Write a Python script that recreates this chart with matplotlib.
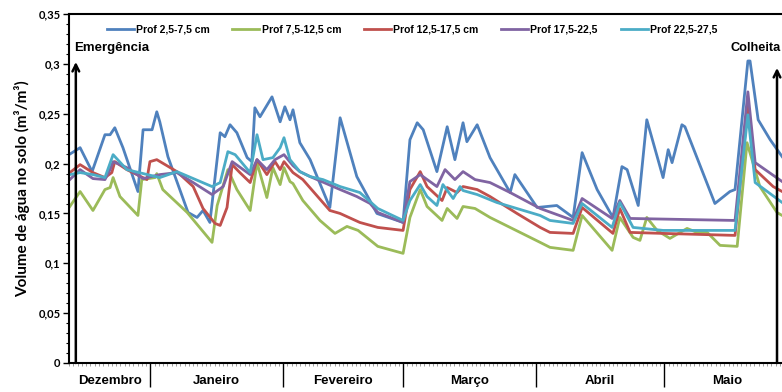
import matplotlib.pyplot as plt
from matplotlib.ticker import MultipleLocator, FixedLocator, FuncFormatter
from matplotlib.transforms import blended_transform_factory

# days counted from the first reading (mid December)
blue_x = [0, 2.6, 5.4, 8.4, 9.6, 10.7, 12.6, 16.1, 17.3, 19.4, 20.5, 21.2, 23.1, 27.8, 29.9, 31.3,
          32.9, 35.3, 36.4, 37.6, 39.2, 41.6, 42.7, 43.4, 44.6, 47.4, 49.3, 50.4, 51.6, 52.3, 53.9,
          56.3, 60.9, 63.3, 67.2, 71.9, 78.0, 79.6, 81.3, 82.7, 85.9, 88.3, 90.1, 92.0, 92.9, 95.3,
          98.3, 103.0, 104.1, 109.3, 113.9, 117.7, 119.8, 123.3, 127.0, 129.1, 130.3, 132.9, 134.9,
          138.7, 139.9, 140.8, 143.1, 143.8, 150.8, 154.3, 155.5, 158.5, 159.0, 160.9, 163.7, 166.5]
blue_y = [0.209, 0.216, 0.192, 0.229, 0.229, 0.236, 0.216, 0.172, 0.234, 0.234, 0.252, 0.242, 0.207,
          0.151, 0.146, 0.153, 0.141, 0.231, 0.227, 0.239, 0.231, 0.206, 0.202, 0.256, 0.247, 0.267,
          0.242, 0.257, 0.244, 0.254, 0.221, 0.204, 0.156, 0.246, 0.187, 0.150, 0.141, 0.224, 0.241,
          0.234, 0.192, 0.237, 0.204, 0.241, 0.222, 0.239, 0.206, 0.171, 0.189, 0.156, 0.158, 0.146,
          0.211, 0.174, 0.146, 0.197, 0.194, 0.158, 0.244, 0.186, 0.214, 0.201, 0.239, 0.237, 0.160,
          0.172, 0.174, 0.303, 0.303, 0.244, 0.224, 0.207]

green_x = [0.2, 2.6, 5.6, 8.4, 9.6, 10.3, 11.9, 16.1, 17.0, 20.1, 20.5, 21.9, 27.6, 33.4, 34.6, 37.1,
           39.2, 42.3, 43.9, 46.2, 47.6, 49.3, 50.2, 51.6, 52.3, 54.6, 58.6, 62.1, 64.9, 67.5, 72.1,
           78.0, 79.6, 82.0, 83.6, 87.1, 88.3, 90.6, 92.0, 94.8, 98.3, 110.0, 112.3, 117.7, 119.8,
           126.8, 128.6, 131.7, 133.3, 134.9, 137.3, 140.3, 144.3, 146.6, 149.0, 152.0, 156.0, 158.3,
           161.3, 165.3, 166.5]
green_y = [0.157, 0.172, 0.153, 0.174, 0.176, 0.186, 0.167, 0.148, 0.184, 0.186, 0.190, 0.174, 0.151,
           0.121, 0.158, 0.194, 0.174, 0.153, 0.201, 0.166, 0.196, 0.179, 0.196, 0.182, 0.180, 0.163,
           0.143, 0.130, 0.137, 0.133, 0.117, 0.110, 0.146, 0.174, 0.157, 0.143, 0.155, 0.145, 0.157,
           0.155, 0.146, 0.121, 0.116, 0.113, 0.148, 0.113, 0.146, 0.126, 0.123, 0.146, 0.133, 0.125,
           0.135, 0.131, 0.131, 0.118, 0.117, 0.221, 0.177, 0.151, 0.148]

red_x = [0.2, 2.6, 5.6, 8.4, 10.0, 10.7, 13.5, 18.2, 18.9, 20.5, 25.2, 29.0, 31.3, 34.1, 35.3, 36.9,
         38.1, 39.9, 42.3, 43.9, 46.2, 48.1, 49.3, 50.2, 52.3, 54.6, 60.9, 63.3, 67.9, 72.1, 78.0,
         79.6, 82.0, 83.6, 87.1, 88.3, 90.6, 92.0, 95.3, 98.3, 104.6, 110.0, 112.3, 117.7, 119.8,
         127.0, 128.6, 131.0, 138.7, 155.5, 158.5, 160.2, 164.4, 166.5]
red_y = [0.191, 0.199, 0.191, 0.186, 0.191, 0.202, 0.194, 0.184, 0.202, 0.204, 0.192, 0.177, 0.155,
         0.140, 0.138, 0.156, 0.199, 0.191, 0.181, 0.204, 0.189, 0.202, 0.194, 0.202, 0.191, 0.184,
         0.153, 0.150, 0.141, 0.136, 0.133, 0.174, 0.192, 0.177, 0.163, 0.176, 0.171, 0.177, 0.174,
         0.167, 0.150, 0.136, 0.131, 0.130, 0.156, 0.130, 0.155, 0.131, 0.130, 0.128, 0.258, 0.194,
         0.177, 0.172]

purple_x = [0.2, 2.6, 5.6, 8.4, 9.6, 10.3, 13.5, 17.3, 21.2, 25.2, 29.0, 33.4, 36.0, 38.1, 42.3, 43.9,
            46.2, 48.1, 50.2, 52.3, 53.9, 56.3, 63.3, 67.2, 70.3, 72.1, 78.0, 79.6, 82.0, 85.9, 87.8,
            90.1, 92.0, 94.8, 98.3, 103.0, 110.0, 117.7, 119.8, 126.8, 128.6, 131.0, 155.5, 158.5,
            160.2, 166.5]
purple_y = [0.184, 0.194, 0.185, 0.184, 0.194, 0.202, 0.196, 0.185, 0.189, 0.191, 0.181, 0.169, 0.177,
            0.202, 0.189, 0.204, 0.194, 0.204, 0.209, 0.198, 0.192, 0.187, 0.174, 0.167, 0.160, 0.151,
            0.141, 0.182, 0.189, 0.177, 0.194, 0.184, 0.192, 0.184, 0.181, 0.171, 0.155, 0.143, 0.165,
            0.145, 0.163, 0.145, 0.143, 0.272, 0.201, 0.182]

cyan_x = [0.2, 2.6, 5.6, 8.4, 10.3, 13.5, 21.2, 25.2, 33.4, 35.3, 37.1, 38.8, 42.3, 43.9, 45.3, 47.6,
          49.3, 50.2, 51.6, 53.9, 56.3, 59.3, 63.3, 67.9, 72.1, 78.0, 79.6, 82.0, 83.6, 85.9, 87.3,
          89.7, 91.3, 92.0, 95.3, 99.9, 110.0, 112.3, 117.7, 119.8, 126.8, 128.6, 131.7, 138.7, 155.5,
          158.5, 160.2, 166.5]
cyan_y = [0.189, 0.191, 0.189, 0.186, 0.209, 0.194, 0.186, 0.192, 0.177, 0.181, 0.212, 0.209, 0.191,
          0.229, 0.204, 0.206, 0.216, 0.226, 0.204, 0.192, 0.187, 0.184, 0.177, 0.171, 0.155, 0.143,
          0.163, 0.179, 0.167, 0.158, 0.179, 0.165, 0.177, 0.173, 0.169, 0.161, 0.148, 0.143, 0.140,
          0.160, 0.136, 0.161, 0.136, 0.133, 0.133, 0.249, 0.181, 0.161]

labels = ["Prof 2,5-7,5 cm", "Prof 7,5-12,5 cm", "Prof 12,5-17,5 cm", "Prof 17,5-22,5", "Prof 22,5-27,5"]
colors = ["#4F81BD", "#9BBB59", "#C0504D", "#8064A2", "#4BACC6"]

months = ["Dezembro", "Janeiro", "Fevereiro", "Março", "Abril", "Maio"]
month_starts = [0, 19, 50, 78, 109, 139, 170.7]
emergencia_day = 1.6
colheita_day = 165.3

plt.rcParams['font.family'] = ['Liberation Sans', 'DejaVu Sans']

fig = plt.figure(figsize=(7.82, 3.92), dpi=100)
ax = fig.add_axes([0.0882, 0.074, 0.935, 0.890])

series = [(blue_x, blue_y), (green_x, green_y), (red_x, red_y), (purple_x, purple_y), (cyan_x, cyan_y)]
for (xs, ys), lab, c in zip(series, labels, colors):
    ax.plot(xs, ys, color=c, lw=2.0, label=lab, solid_joinstyle='round')

ax.set_xlim(month_starts[0], month_starts[-1])
ax.set_ylim(0, 0.35)

# y axis
ax.yaxis.set_major_locator(MultipleLocator(0.05))
ax.yaxis.set_minor_locator(MultipleLocator(0.01))
ax.yaxis.set_major_formatter(FuncFormatter(lambda v, p: ("%g" % round(v, 2)).replace(".", ",")))
ax.tick_params(axis='y', which='major', direction='out', length=4, width=1, labelsize=8, pad=2)
ax.tick_params(axis='y', which='minor', direction='out', length=2.5, width=0.8)
for t in ax.get_yticklabels():
    t.set_fontfamily('Lato')
    t.set_fontweight('bold')
ax.set_ylabel("Volume de água no solo (m³/m³)", fontsize=11, fontweight='bold',
              family='Lato', labelpad=6)

# x axis: month separators and daily ticks
ax.xaxis.set_major_locator(FixedLocator(month_starts[1:-1]))
ax.xaxis.set_minor_locator(MultipleLocator(1))
ax.tick_params(axis='x', which='major', direction='out', length=17, width=1, labelbottom=False)
ax.tick_params(axis='x', which='minor', direction='out', length=2.5, width=0.4, color='#555555')
trans = blended_transform_factory(ax.transData, ax.transAxes)
for i, m in enumerate(months):
    mid = (month_starts[i] + month_starts[i + 1]) / 2
    if m == "Maio":
        mid -= 1.2
    ax.text(mid, -0.052, m, transform=trans, ha='center', va='center',
            fontsize=9.5, fontweight='bold')

for side in ['left', 'top', 'bottom']:
    ax.spines[side].set_linewidth(1.5)

# Emergência / Colheita arrows
ax.annotate('', xy=(emergencia_day, 0.302), xytext=(emergencia_day, 0),
            arrowprops=dict(arrowstyle='->', lw=1.8, color='black', mutation_scale=12,
                            shrinkA=0, shrinkB=0))
ax.annotate('', xy=(colheita_day, 0.296), xytext=(colheita_day, 0),
            arrowprops=dict(arrowstyle='->', lw=1.8, color='black', mutation_scale=12,
                            shrinkA=0, shrinkB=0))
ax.text(emergencia_day - 0.4, 0.3165, "Emergência", fontsize=9.5, fontweight='bold',
        ha='left', va='center')
ax.text(colheita_day - 10.9, 0.3165, "Colheita", fontsize=9.2, fontweight='bold',
        ha='left', va='center')

ax.legend(loc='center', bbox_to_anchor=(0.469, 0.955), ncol=5, frameon=False,
          prop={'size': 7.5, 'weight': 'bold'}, handlelength=2.6, handletextpad=0.2,
          columnspacing=2.2)

fig.savefig("out.png", dpi=100)
